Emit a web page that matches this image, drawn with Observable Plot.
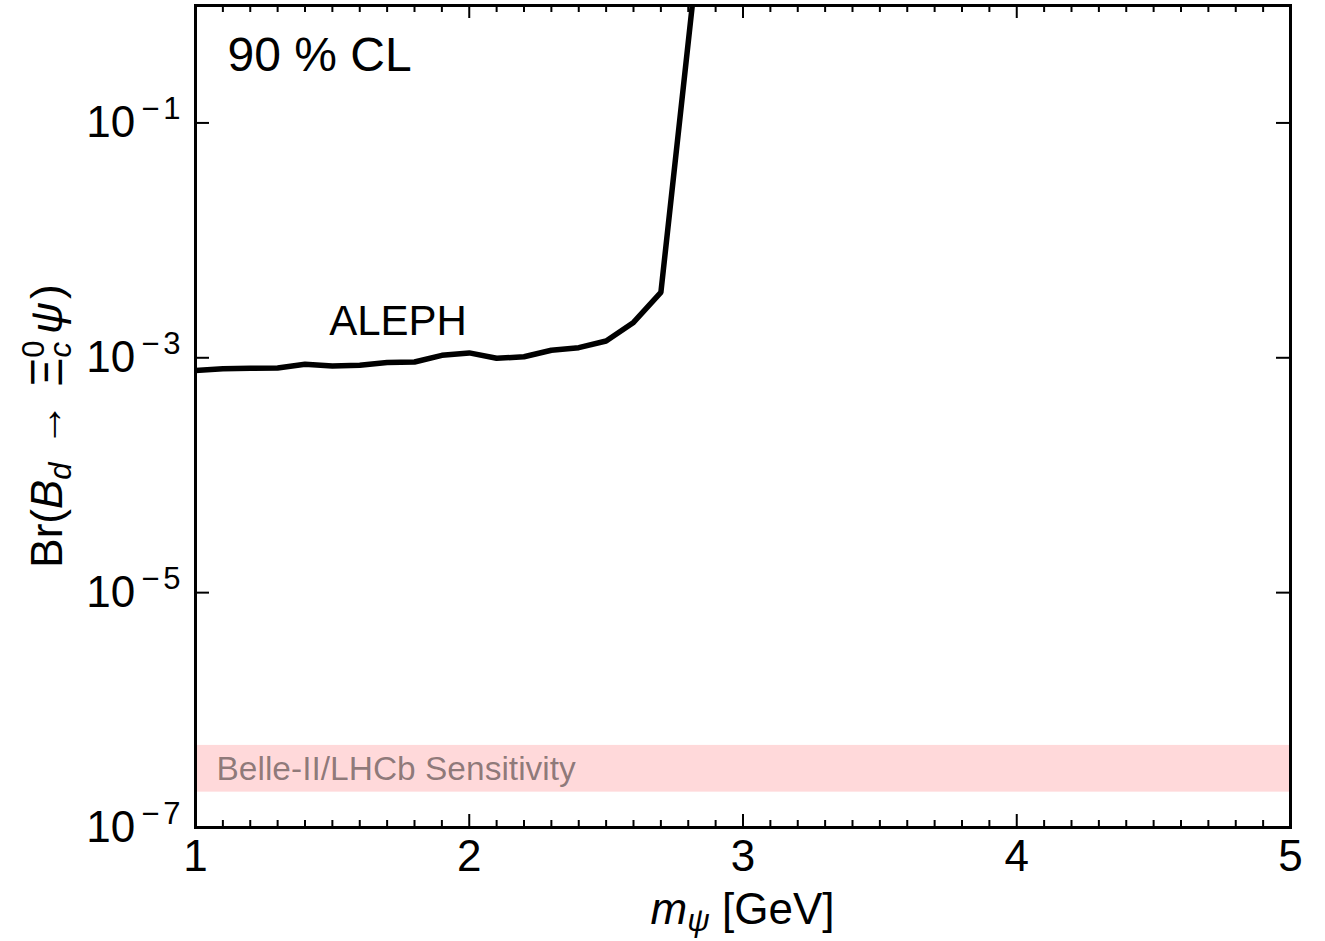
<!DOCTYPE html>
<html>
<head>
<meta charset="utf-8">
<script src="https://cdn.jsdelivr.net/npm/d3@7"></script>
<script src="https://cdn.jsdelivr.net/npm/@observablehq/plot@0.6"></script>
<style>
  body { margin: 0; background: #ffffff; }
  #chart svg { display: block; }
</style>
</head>
<body>
<div id="chart"></div>
<script>
// ALEPH 90% CL limit on Br(B_d -> Xi_c^0 psi) vs m_psi [GeV]
const massGeV = [1.0, 1.1, 1.2, 1.3, 1.4, 1.5, 1.6, 1.7, 1.8, 1.9, 2.0, 2.1, 2.2, 2.3, 2.4, 2.5, 2.6, 2.7, 2.82];
const alephLimit = [7.8e-4, 8.05e-4, 8.15e-4, 8.2e-4, 8.8e-4, 8.5e-4, 8.65e-4, 9.1e-4, 9.2e-4, 1.05e-3, 1.1e-3, 9.9e-4, 1.02e-3, 1.16e-3, 1.22e-3, 1.39e-3, 2.0e-3, 3.6e-3, 1.3];
// Belle-II / LHCb sensitivity band
const sensitivityLow = [2e-7];
const sensitivityHigh = [5e-7];
const sensitivityLabel = ["Belle-II/LHCb Sensitivity"];
// annotations
const curveLabel = ["ALEPH"];
const curveLabelX = [1.74];
const curveLabelY = [2.05e-3];
const clLabel = ["90 % CL"];
// ticks
const xMajorTicks = [1, 2, 3, 4, 5];
const xTickLabels = ["1", "2", "3", "4", "5"];
const xMinorTicks = d3.range(1, 5.0001, 0.1).map(v => +v.toFixed(1)).filter(v => !xMajorTicks.includes(v));
const yMajorTicks = [1e-7, 1e-5, 1e-3, 1e-1];
const yTickExponents = ["7", "5", "3", "1"];

const W = 1325, H = 941;
const mL = 195, mR = 35, mT = 5, mB = 114;
const plotW = W - mL - mR, plotH = H - mT - mB;
const FONT = "'Liberation Sans', Arial, Helvetica, sans-serif";

const aleph = massGeV.map((m, i) => ({m, br: alephLimit[i]}));
const band = sensitivityLow.map((lo, i) => ({lo, hi: sensitivityHigh[i], label: sensitivityLabel[i]}));

const chart = Plot.plot({
  width: W, height: H,
  marginLeft: mL, marginRight: mR, marginTop: mT, marginBottom: mB,
  style: {fontFamily: FONT, background: "#ffffff", color: "#000"},
  x: {type: "linear", domain: [1, 5]},
  y: {type: "log", domain: [1e-7, 1]},
  marks: [
    Plot.rect(band, {y1: "lo", y2: "hi", fill: "#ffd9da"}),
    Plot.text(band, {y: d => Math.sqrt(d.lo * d.hi), text: "label", frameAnchor: "left", textAnchor: "start",
      dx: 21, fontSize: 33.5, fill: "#000", fillOpacity: 0.45}),
    Plot.line(aleph, {x: "m", y: "br", stroke: "#000", strokeWidth: 5.5, clip: true, strokeLinejoin: "miter"}),
    Plot.text(curveLabel, {x: (d, i) => curveLabelX[i], y: (d, i) => curveLabelY[i], text: d => d,
      fontSize: 42, fill: "#000", textAnchor: "middle", lineAnchor: "middle"}),
    Plot.text(clLabel, {text: d => d, frameAnchor: "top-left", textAnchor: "start", lineAnchor: "middle",
      dx: 32, dy: 50, fontSize: 48, fill: "#000"}),
    // inward ticks: bottom & top
    Plot.tickX(xMajorTicks, {x: d => d, insetTop: plotH - 13, stroke: "#000", strokeWidth: 2}),
    Plot.tickX(xMinorTicks, {x: d => d, insetTop: plotH - 7, stroke: "#000", strokeWidth: 2}),
    Plot.tickX(xMajorTicks, {x: d => d, insetBottom: plotH - 13, stroke: "#000", strokeWidth: 2}),
    Plot.tickX(xMinorTicks, {x: d => d, insetBottom: plotH - 7, stroke: "#000", strokeWidth: 2}),
    // inward ticks: left & right
    Plot.tickY(yMajorTicks, {y: d => d, insetRight: plotW - 14, stroke: "#000", strokeWidth: 2}),
    Plot.tickY(yMajorTicks, {y: d => d, insetLeft: plotW - 14, stroke: "#000", strokeWidth: 2}),
    Plot.axisX(xMajorTicks, {anchor: "bottom", tickSize: 0, tickPadding: 12, fontSize: 44,
      tickFormat: (d, i) => xTickLabels[xMajorTicks.indexOf(d)], label: null}),
    Plot.axisY(yMajorTicks, {anchor: "left", tickSize: 0, tickPadding: 15, fontSize: 44,
      tickFormat: d => "E" + yTickExponents[yMajorTicks.indexOf(d)], label: null}),
    Plot.frame({stroke: "#000", strokeWidth: 3})
  ]
});

// superscript exponents on the y tick labels
d3.select(chart).selectAll('g[aria-label="y-axis tick label"] text').each(function () {
  const t = d3.select(this);
  const exp = this.textContent.replace(/^E/, "");
  t.text(null);
  t.append("tspan").text("10");
  t.append("tspan").attr("font-size", 31).attr("dx", 6).attr("dy", -18).text("−");
  t.append("tspan").attr("font-size", 31).attr("dx", 4).text(exp);
});

const svg = d3.select(chart);
// x-axis label: m_psi [GeV]
const xl = svg.append("text")
  .attr("x", mL + plotW / 2).attr("y", 924)
  .attr("text-anchor", "middle").attr("font-size", 44).attr("font-family", FONT).attr("fill", "#000");
xl.append("tspan").attr("font-style", "italic").text("m");
xl.append("tspan").attr("font-style", "italic").attr("font-size", 31).attr("dy", 7).text("ψ");
xl.append("tspan").attr("dy", -7).text(" [GeV]");

// y-axis label: Br(B_d -> Xi_c^0 psi)
const yl = svg.append("text")
  .attr("transform", `translate(62,${mT + plotH / 2 + 10}) rotate(-90)`)
  .attr("text-anchor", "middle").attr("font-size", 44).attr("font-family", FONT).attr("fill", "#000");
yl.append("tspan").text("Br(");
yl.append("tspan").attr("font-style", "italic").text("B");
yl.append("tspan").attr("font-style", "italic").attr("font-size", 31).attr("dy", 9).text("d");
yl.append("tspan").attr("dy", -9).attr("dx", 16).text("→");
yl.append("tspan").attr("dx", 16).text("Ξ");
yl.append("tspan").attr("font-size", 31).attr("dy", -18).text("0");
yl.append("tspan").attr("font-style", "italic").attr("font-size", 31).attr("dx", -17).attr("dy", 27).text("c");
yl.append("tspan").attr("dy", -9).attr("dx", 8).attr("font-style", "italic").text("ψ");
yl.append("tspan").attr("dx", 3).text(")");

document.getElementById("chart").append(chart);
</script>
</body>
</html>
